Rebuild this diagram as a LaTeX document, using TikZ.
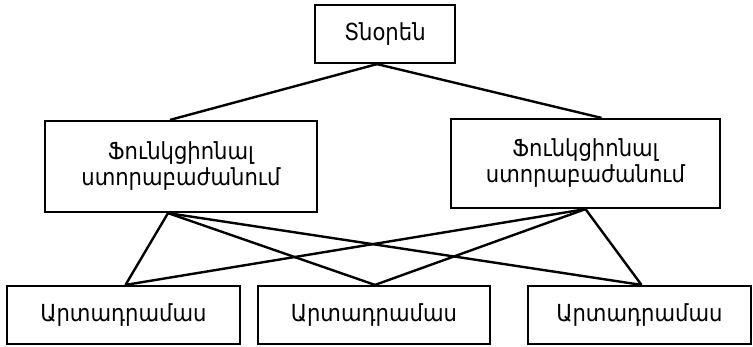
\documentclass[tikz,border=0pt]{standalone}
\usepackage{fontspec}
\setmainfont{DejaVu Sans Condensed}

\tikzset{
    caixa/.style={draw, line width=2.2pt, inner sep=0pt, align=center,
        font=\fontsize{23.5}{26}\selectfont},
    liga/.style={line width=2.4pt}
}

\begin{document}
\begin{tikzpicture}[x=1pt, y=-1pt]
        \useasboundingbox (0,0) rectangle (753,346);

        % Caixas
        \node[caixa, minimum width=140pt, minimum height=58pt] (dir) at (385,34) {Տնօրեն};
        \node[caixa, minimum width=272pt, minimum height=91pt] (funcA) at (181,166.5) {Ֆունկցիոնալ\\ստորաբաժանում};
        \node[caixa, minimum width=269pt, minimum height=89pt] (funcB) at (585.5,163.5) {Ֆունկցիոնալ\\ստորաբաժանում};
        \node[caixa, minimum width=233pt, minimum height=58pt] (ws1) at (123.5,315) {Արտադրամաս};
        \node[caixa, minimum width=232pt, minimum height=58pt] (ws2) at (374,315) {Արտադրամաս};
        \node[caixa, minimum width=223pt, minimum height=58pt] (ws3) at (639.5,315) {Արտադրամաս};

        % Ligações
        \draw[liga] ([xshift=-8pt]dir.south) -- ([xshift=-11pt]funcA.north);
        \draw[liga] ([xshift=-8pt]dir.south) -- ([xshift=16pt]funcB.north);

        \draw[liga] ([xshift=-13pt]funcA.south) -- ([xshift=2pt]ws1.north);
        \draw[liga] ([xshift=-13pt]funcA.south) -- ([xshift=1pt]ws2.north);
        \draw[liga] ([xshift=-13pt]funcA.south) -- ([xshift=2pt]ws3.north);

        \draw[liga] (funcB.south) -- ([xshift=2pt]ws1.north);
        \draw[liga] (funcB.south) -- ([xshift=1pt]ws2.north);
        \draw[liga] (funcB.south) -- ([xshift=2pt]ws3.north);
    \end{tikzpicture}
\end{document}
